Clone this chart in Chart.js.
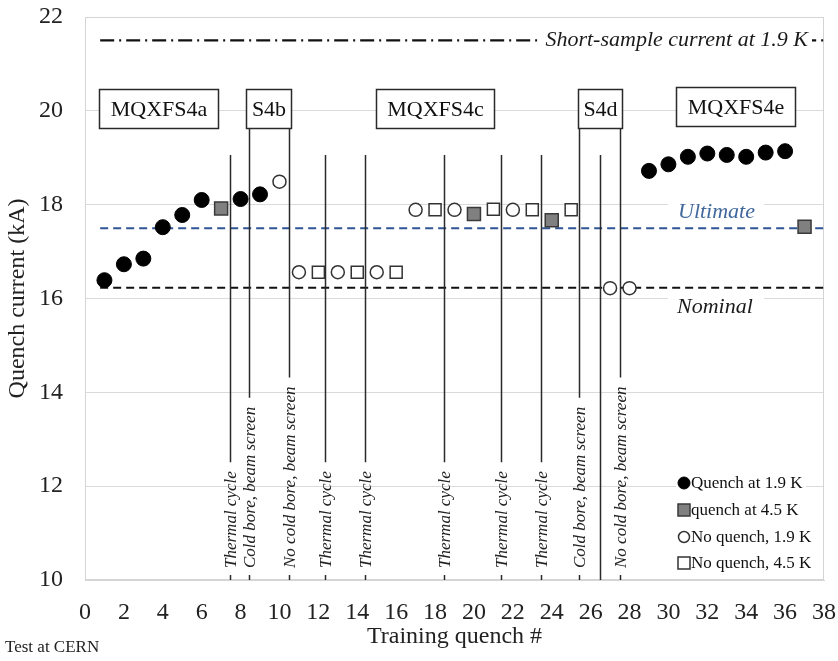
<!DOCTYPE html>
<html><head><meta charset="utf-8">
<script src="https://cdn.jsdelivr.net/npm/chart.js@4/dist/chart.umd.min.js"></script>
<style>html,body{margin:0;padding:0;background:#fff}canvas{display:block}</style>
</head><body>
<canvas id="c" width="838" height="661"></canvas>
<script>
// ---- data ----
const quench19X = [1, 2, 3, 4, 5, 6, 8, 9, 29, 30, 31, 32, 33, 34, 35, 36];
const quench19Y = [16.39, 16.73, 16.85, 17.52, 17.78, 18.10, 18.12, 18.22, 18.72, 18.86, 19.02, 19.09, 19.06, 19.02, 19.11, 19.14];
const quench45X = [7, 20, 24, 37];
const quench45Y = [17.92, 17.80, 17.67, 17.53];
const noQuench19X = [10, 11, 13, 15, 17, 19, 22, 27, 28];
const noQuench19Y = [18.49, 16.56, 16.56, 16.56, 17.89, 17.89, 17.89, 16.22, 16.22];
const noQuench45X = [12, 14, 16, 18, 21, 23, 25];
const noQuench45Y = [16.56, 16.56, 16.56, 17.89, 17.90, 17.89, 17.89];
const seriesNames = ['Quench at 1.9 K', 'quench at 4.5 K', 'No quench, 1.9 K', 'No quench, 4.5 K'];
const refNames = ['Short-sample current at 1.9 K', 'Ultimate', 'Nominal'];
const refValues = [21.5, 17.5, 16.23];
const xTickValues = [0,2,4,6,8,10,12,14,16,18,20,22,24,26,28,30,32,34,36,38];
const yTickValues = [10,12,14,16,18,20,22];
const magnetNames = ['MQXFS4a', 'S4b', 'MQXFS4c', 'S4d', 'MQXFS4e'];
const magnetStart = [0.7, 8.26, 14.95, 25.35, 30.38];
const magnetEnd = [6.84, 10.58, 21.03, 27.6, 36.5];
const eventX = [7.45, 8.45, 10.5, 12.35, 14.4, 18.45, 21.4, 23.45, 25.4, 26.5, 27.5];
const eventLabels = ['Thermal cycle', 'Cold bore, beam screen', 'No cold bore, beam screen', 'Thermal cycle', 'Thermal cycle', 'Thermal cycle', 'Thermal cycle', 'Thermal cycle', 'Cold bore, beam screen', '', 'No cold bore, beam screen'];
const eventFromBox = [false, true, true, false, false, false, false, false, true, false, true];

// ---- styles ----
const SERIF = '"Liberation Serif", "Times New Roman", serif';
const BLUE = '#2f5597';
const BOX_TOP = 20.46, BOX_BOTTOM = 19.63, EVENT_TOP = 19.06;
const pts = (xs, ys) => xs.map((v, i) => ({x: v, y: ys[i]}));

const datasets = [
  {label: seriesNames[0], data: pts(quench19X, quench19Y), pointStyle: 'circle', pointRadius: 7.5, backgroundColor: '#000', borderColor: '#000', borderWidth: 1},
  {label: seriesNames[1], data: pts(quench45X, quench45Y), pointStyle: 'rect', pointRadius: 9.2, backgroundColor: '#808080', borderColor: '#3a3a3a', borderWidth: 1.5},
  {label: seriesNames[2], data: pts(noQuench19X, noQuench19Y), pointStyle: 'circle', pointRadius: 6.5, backgroundColor: '#fff', borderColor: '#333', borderWidth: 1.5},
  {label: seriesNames[3], data: pts(noQuench45X, noQuench45Y), pointStyle: 'rect', pointRadius: 8.5, backgroundColor: '#fff', borderColor: '#333', borderWidth: 1.5}
];

function textBg(ctx, x0, y0, w, h) { ctx.fillStyle = '#fff'; ctx.fillRect(x0, y0, w, h); }
function noPad(s) { s.paddingLeft = 0; s.paddingRight = 0; s.paddingTop = 0; s.paddingBottom = 0; }

const annot = {
  id: 'annot',
  beforeDatasetsDraw(chart) {
    const {ctx, chartArea: a, scales: {x, y}} = chart;
    ctx.save();
    ctx.strokeStyle = '#d4d4d4'; ctx.lineWidth = 1;
    ctx.strokeRect(a.left + 0.5, a.top + 0.5, a.right - a.left - 1, a.bottom - a.top - 1);

    const x0 = x.getPixelForValue(0.78), x1 = a.right;
    let py = y.getPixelForValue(refValues[0]);
    ctx.strokeStyle = '#111'; ctx.lineWidth = 2.2; ctx.setLineDash([14, 5, 2, 5]);
    ctx.beginPath(); ctx.moveTo(x0, py); ctx.lineTo(x1, py); ctx.stroke();
    py = y.getPixelForValue(refValues[1]);
    ctx.strokeStyle = BLUE; ctx.lineWidth = 2; ctx.setLineDash([8, 5]);
    ctx.beginPath(); ctx.moveTo(x0, py); ctx.lineTo(x1, py); ctx.stroke();
    py = y.getPixelForValue(refValues[2]);
    ctx.strokeStyle = '#111'; ctx.lineWidth = 2; ctx.setLineDash([8, 5]);
    ctx.beginPath(); ctx.moveTo(x0, py); ctx.lineTo(x1, py); ctx.stroke();
    ctx.setLineDash([]);

    ctx.font = 'italic 22px ' + SERIF; ctx.textBaseline = 'middle'; ctx.textAlign = 'left';
    py = y.getPixelForValue(refValues[0]);
    let w = ctx.measureText(refNames[0]).width;
    let tx = a.right - 16 - w;
    textBg(ctx, tx - 8, py - 12, w + 12, 24);
    ctx.fillStyle = '#1a1a1a'; ctx.fillText(refNames[0], tx, py);
    py = y.getPixelForValue(refValues[1]) - 16;
    textBg(ctx, 668, py - 10, 96, 20);
    ctx.fillStyle = '#41689c'; ctx.fillText(refNames[1], 678, py);
    py = y.getPixelForValue(refValues[2]) + 20;
    textBg(ctx, 668, py - 12, 96, 22);
    ctx.fillStyle = '#1a1a1a'; ctx.fillText(refNames[2], 677, py);

    ctx.strokeStyle = '#2a2a2a'; ctx.lineWidth = 1.5;
    ctx.font = 'italic 17px ' + SERIF;
    eventX.forEach((ev, i) => {
      const px = Math.round(x.getPixelForValue(ev)) + 0.5;
      const top = y.getPixelForValue(eventFromBox[i] ? BOX_BOTTOM : EVENT_TOP);
      let bottom = a.bottom;
      const lab = eventLabels[i];
      if (lab) {
        const tw = ctx.measureText(lab).width;
        const start = a.bottom - 12;
        bottom = start - tw - 9;
        ctx.save(); ctx.translate(px + 1, start); ctx.rotate(-Math.PI / 2);
        ctx.textAlign = 'left'; ctx.textBaseline = 'middle'; ctx.fillStyle = '#222';
        ctx.fillText(lab, 0, 0); ctx.restore();
        ctx.beginPath(); ctx.moveTo(px, a.bottom - 5); ctx.lineTo(px, a.bottom); ctx.stroke();
      }
      ctx.beginPath(); ctx.moveTo(px, top); ctx.lineTo(px, bottom); ctx.stroke();
    });

    ctx.font = '22px ' + SERIF; ctx.textAlign = 'center'; ctx.textBaseline = 'middle';
    magnetNames.forEach((name, i) => {
      const bx0 = Math.round(x.getPixelForValue(magnetStart[i])) + 0.5;
      const bx1 = Math.round(x.getPixelForValue(magnetEnd[i])) + 0.5;
      const off = i === 4 ? 0.05 : 0;
      const by0 = Math.round(y.getPixelForValue(BOX_TOP + off)) + 0.5;
      const by1 = Math.round(y.getPixelForValue(BOX_BOTTOM + off)) + 0.5;
      ctx.fillStyle = '#fff'; ctx.fillRect(bx0, by0, bx1 - bx0, by1 - by0);
      ctx.strokeStyle = '#2a2a2a'; ctx.lineWidth = 1.5;
      ctx.strokeRect(bx0, by0, bx1 - bx0, by1 - by0);
      ctx.fillStyle = '#111'; ctx.fillText(name, (bx0 + bx1) / 2, (by0 + by1) / 2 + 1);
    });
    ctx.restore();
  },
  afterDatasetsDraw(chart) {
    const {ctx, chartArea: a} = chart;
    ctx.save();
    ctx.fillStyle = '#fff'; ctx.fillRect(676, 472, 130, a.bottom - 473);
    const ys = [483, 510, 537, 563];
    ctx.font = '17px ' + SERIF; ctx.textBaseline = 'middle'; ctx.textAlign = 'left';
    datasets.forEach((d, i) => {
      const mx = 684, my = ys[i];
      ctx.fillStyle = d.backgroundColor; ctx.strokeStyle = d.borderColor; ctx.lineWidth = d.borderWidth;
      ctx.beginPath();
      if (d.pointStyle === 'circle') ctx.arc(mx, my, i === 0 ? 6 : 5.5, 0, Math.PI * 2);
      else ctx.rect(mx - 6, my - 6, 12, 12);
      ctx.fill(); ctx.stroke();
      ctx.fillStyle = '#111'; ctx.fillText(d.label, 691, my + 1);
    });
    ctx.restore();
  },
  afterDraw(chart) {
    const ctx = chart.ctx;
    ctx.save();
    ctx.font = '17px ' + SERIF; ctx.fillStyle = '#222'; ctx.textBaseline = 'middle'; ctx.textAlign = 'left';
    ctx.fillText('Test at CERN', 5, 648);
    ctx.restore();
  }
};

new Chart(document.getElementById('c'), {
  type: 'scatter',
  data: {datasets},
  options: {
    responsive: false, animation: false, events: [],
    layout: {autoPadding: false, padding: {left: 0, top: 17, right: 14, bottom: 0}},
    plugins: {legend: {display: false}, tooltip: {enabled: false}},
    scales: {
      x: {
        type: 'linear', min: 0, max: 38,
        afterBuildTicks: s => { s.ticks = xTickValues.map(v => ({value: v})); },
        afterFit: s => { s.height = 81; noPad(s); },
        ticks: {font: {family: SERIF, size: 24}, color: '#222', padding: 18, maxRotation: 0, autoSkip: false},
        grid: {display: false, drawTicks: false},
        border: {display: true, color: '#d4d4d4'},
        title: {display: true, text: 'Training quench #', font: {family: SERIF, size: 24, lineHeight: 1}, color: '#222', padding: {top: 0, bottom: 12}}
      },
      y: {
        type: 'linear', min: 10, max: 22,
        afterBuildTicks: s => { s.ticks = yTickValues.map(v => ({value: v})); },
        afterFit: s => { s.width = 85; noPad(s); },
        ticks: {font: {family: SERIF, size: 24}, color: '#222', padding: 22},
        grid: {color: '#dadada', drawTicks: false, lineWidth: 1},
        border: {display: true, color: '#d4d4d4'},
        title: {display: true, text: 'Quench current (kA)', font: {family: SERIF, size: 24, lineHeight: 1}, color: '#222', padding: {top: 6, bottom: 0}}
      }
    }
  },
  plugins: [annot]
});
</script>
</body></html>
